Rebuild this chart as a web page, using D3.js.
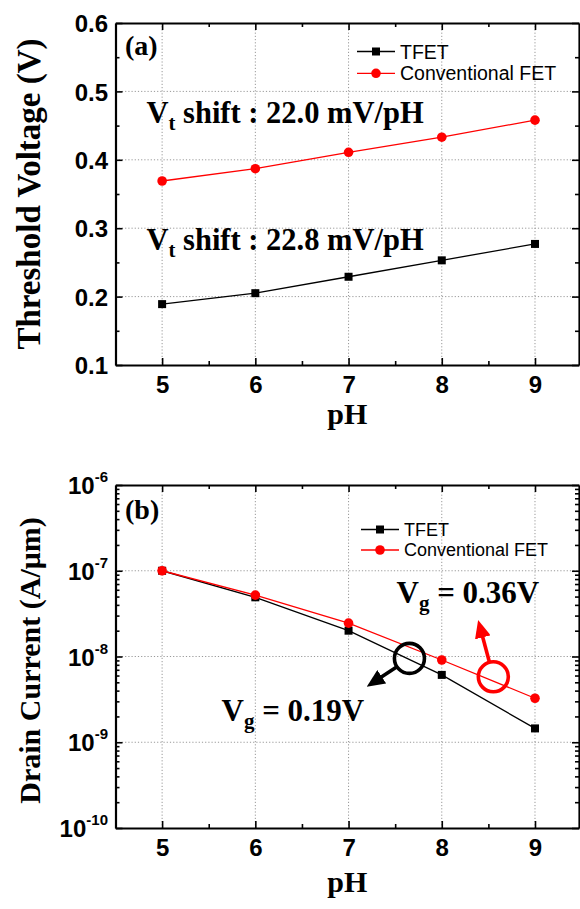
<!DOCTYPE html>
<html>
<head>
<meta charset="utf-8">
<script src="https://cdn.jsdelivr.net/npm/d3@7"></script>
<style>
  body { margin: 0; background: #fff; }
  svg { display: block; }
  .tick-label { font-family: "Liberation Sans", Arial, sans-serif; font-weight: bold; font-size: 24px; }
  .serif { font-family: "Liberation Serif", "Times New Roman", serif; font-weight: bold; }
  .legend { font-family: "Liberation Sans", Arial, sans-serif; }
</style>
</head>
<body>
<svg id="chart" width="580" height="909"></svg>
<script>
// data
const phValues = [5, 6, 7, 8, 9];
const vtTfet = [0.189, 0.205, 0.229, 0.253, 0.277];
const vtConv = [0.369, 0.387, 0.411, 0.433, 0.458];
const idTfet = [1.0e-7, 4.9e-8, 2.0e-8, 6.1e-9, 1.45e-9];
const idConv = [1.0e-7, 5.2e-8, 2.45e-8, 9.1e-9, 3.26e-9];

const phTicks = [5, 6, 7, 8, 9];
const phMinor = [5.5, 6.5, 7.5, 8.5];
const vtTicks = [0.1, 0.2, 0.3, 0.4, 0.5, 0.6];
const vtMinor = [0.15, 0.25, 0.35, 0.45, 0.55];
const idExponents = [-10, -9, -8, -7, -6];
const seriesNames = ['TFET', 'Conventional FET'];

const RED = '#ff0000';
const svg = d3.select('#chart');

const frameLeft = 115.5, frameRight = 579;
const x = d3.scaleLinear().domain([4.5, 9.472]).range([frameLeft, frameRight]);

const yVt = d3.scaleLinear().domain([0.1, 0.6]).range([365, 23]);
const yId = d3.scaleLog().domain([1e-10, 1e-6]).range([828, 485]);

const idMinor = [];
idExponents.slice(0, -1).forEach(e => {
  for (let k = 2; k <= 9; k++) idMinor.push(k * Math.pow(10, e));
});

function cleanAxis(g, keepDomain) {
  g.attr('font-family', null).attr('font-size', null);
  if (keepDomain) g.select('.domain').attr('stroke-width', 2.2);
  else g.select('.domain').remove();
  g.selectAll('.tick line').attr('stroke-width', 1.6);
}

function drawPanel(y, yTop, yBottom, gridValues, majorVals, minorVals, labelFn) {
  const g = svg.append('g');

  // dotted grid
  g.selectAll('.vgrid').data(phTicks).enter().append('line')
    .attr('x1', d => x(d)).attr('x2', d => x(d))
    .attr('y1', yTop).attr('y2', yBottom)
    .attr('stroke', '#999').attr('stroke-dasharray', '1.2,2');
  g.selectAll('.hgrid').data(gridValues).enter().append('line')
    .attr('x1', frameLeft).attr('x2', frameRight)
    .attr('y1', d => y(d)).attr('y2', d => y(d))
    .attr('stroke', '#999').attr('stroke-dasharray', '1.2,2');

  // bottom axis with labels
  const bx = g.append('g').attr('transform', `translate(0,${yBottom})`)
    .call(d3.axisBottom(x).tickValues(phTicks).tickSize(-7).tickSizeOuter(0).tickPadding(11).tickFormat(d3.format('d')));
  cleanAxis(bx, true);
  bx.selectAll('text').attr('class', 'tick-label').attr('fill', '#000');
  const bxm = g.append('g').attr('transform', `translate(0,${yBottom})`)
    .call(d3.axisBottom(x).tickValues(phMinor).tickSize(-4).tickFormat(''));
  cleanAxis(bxm, false);

  // top axis, ticks only
  const tx = g.append('g').attr('transform', `translate(0,${yTop})`)
    .call(d3.axisTop(x).tickValues(phTicks).tickSize(-7).tickSizeOuter(0).tickFormat(''));
  cleanAxis(tx, true);
  const txm = g.append('g').attr('transform', `translate(0,${yTop})`)
    .call(d3.axisTop(x).tickValues(phMinor).tickSize(-4).tickFormat(''));
  cleanAxis(txm, false);

  // left axis
  const ly = g.append('g').attr('transform', `translate(${frameLeft},0)`)
    .call(d3.axisLeft(y).tickValues(majorVals).tickSize(-7).tickSizeOuter(0).tickFormat(''));
  cleanAxis(ly, true);
  ly.selectAll('.tick').each(function(d) { labelFn(d3.select(this), d); });
  const lym = g.append('g').attr('transform', `translate(${frameLeft},0)`)
    .call(d3.axisLeft(y).tickValues(minorVals).tickSize(-4).tickFormat(''));
  cleanAxis(lym, false);

  // right axis
  const ry = g.append('g').attr('transform', `translate(${frameRight},0)`)
    .call(d3.axisRight(y).tickValues(majorVals).tickSize(-7).tickSizeOuter(0).tickFormat(''));
  cleanAxis(ry, true);
  const rym = g.append('g').attr('transform', `translate(${frameRight},0)`)
    .call(d3.axisRight(y).tickValues(minorVals).tickSize(-4).tickFormat(''));
  cleanAxis(rym, false);

  return g;
}

function drawSeries(g, y, values, color, shape) {
  const pts = phValues.map((p, i) => [p, values[i]]);
  g.append('path').datum(pts)
    .attr('fill', 'none').attr('stroke', color).attr('stroke-width', 1.3)
    .attr('d', d3.line().x(d => x(d[0])).y(d => y(d[1])));
  if (shape === 'square') {
    g.selectAll(null).data(pts).enter().append('rect')
      .attr('x', d => x(d[0]) - 4).attr('y', d => y(d[1]) - 4)
      .attr('width', 8).attr('height', 8).attr('fill', color);
  } else {
    g.selectAll(null).data(pts).enter().append('circle')
      .attr('cx', d => x(d[0])).attr('cy', d => y(d[1]))
      .attr('r', 4.8).attr('fill', color);
  }
}

function drawLegend(g, lx, ly, gap, size) {
  const items = [{ name: seriesNames[0], color: '#000', shape: 'square' },
                 { name: seriesNames[1], color: RED, shape: 'circle' }];
  items.forEach((it, i) => {
    const yy = ly + i * gap;
    g.append('line').attr('x1', lx).attr('x2', lx + 38).attr('y1', yy).attr('y2', yy)
      .attr('stroke', it.color).attr('stroke-width', 1.3);
    if (it.shape === 'square') {
      g.append('rect').attr('x', lx + 15).attr('y', yy - 4).attr('width', 8).attr('height', 8).attr('fill', it.color);
    } else {
      g.append('circle').attr('cx', lx + 19).attr('cy', yy).attr('r', 4.8).attr('fill', it.color);
    }
    g.append('text').attr('class', 'legend').attr('font-size', size)
      .attr('x', lx + 43).attr('y', yy + size * 0.36).text(it.name);
  });
}

function subText(g, tx, ty, main, sub, rest, size) {
  const t = g.append('text').attr('class', 'serif').attr('x', tx).attr('y', ty).attr('font-size', size);
  t.append('tspan').text(main);
  t.append('tspan').attr('font-size', size * 0.68).attr('dy', 7).text(sub);
  t.append('tspan').attr('dy', -7).text(rest);
  return t;
}

// ---- panel (a)
const ga = drawPanel(yVt, 23, 365, [0.2, 0.3, 0.4, 0.5], vtTicks, vtMinor, (tick, d) => {
  tick.append('text').attr('class', 'tick-label').attr('fill', '#000')
    .attr('x', -7.5).attr('dy', '0.36em').attr('text-anchor', 'end').text(d3.format('.1f')(d));
});
drawSeries(ga, yVt, vtTfet, '#000', 'square');
drawSeries(ga, yVt, vtConv, RED, 'circle');
drawLegend(ga, 357, 51.5, 21.8, 19.5);
ga.append('text').attr('class', 'serif').attr('font-size', 28).attr('x', 125).attr('y', 55).text('(a)');
subText(ga, 146.5, 123, 'V', 't', ' shift : 22.0 mV/pH', 30.5);
subText(ga, 146.5, 250, 'V', 't', ' shift : 22.8 mV/pH', 30.5);
ga.append('text').attr('class', 'serif').attr('font-size', 30).attr('text-anchor', 'middle')
  .attr('x', (frameLeft + frameRight) / 2).attr('y', 424).text('pH');
ga.append('text').attr('class', 'serif').attr('font-size', 33).attr('text-anchor', 'middle')
  .attr('transform', `translate(40,${(23 + 365) / 2}) rotate(-90)`).text('Threshold Voltage (V)');

// ---- panel (b)
const gb = drawPanel(yId, 485, 828, [1e-9, 1e-8, 1e-7], idExponents.map(e => Math.pow(10, e)), idMinor, (tick, d) => {
  const e = Math.round(Math.log10(d));
  const t = tick.append('text').attr('class', 'tick-label').attr('fill', '#000')
    .attr('x', -7.5).attr('dy', '0.36em').attr('text-anchor', 'end');
  t.append('tspan').text('10');
  t.append('tspan').attr('font-size', 15).attr('dy', -12).text(e);
});
drawSeries(gb, yId, idTfet, '#000', 'square');
drawSeries(gb, yId, idConv, RED, 'circle');
drawLegend(gb, 361, 529.5, 20.5, 18);
gb.append('text').attr('class', 'serif').attr('font-size', 28).attr('x', 125).attr('y', 519).text('(b)');
gb.append('text').attr('class', 'serif').attr('font-size', 30).attr('text-anchor', 'middle')
  .attr('x', (frameLeft + frameRight) / 2).attr('y', 892).text('pH');
gb.append('text').attr('class', 'serif').attr('font-size', 30).attr('text-anchor', 'middle')
  .attr('transform', `translate(40,${(485 + 828) / 2 + 4}) rotate(-90)`).text('Drain Current (A/\u03bcm)');

// Vg callouts: circle on the curve + arrow to the label
const callouts = [
  { ph: 8.553, value: 5.8e-9, tipPh: 8.39, tipValue: 2.67e-8, color: RED },
  { ph: 7.653, value: 9.5e-9, tipPh: 7.195, tipValue: 4.45e-9, color: '#000' }
];
const defs = svg.append('defs');
callouts.forEach((c, i) => {
  defs.append('marker').attr('id', 'head' + i)
    .attr('markerUnits', 'userSpaceOnUse').attr('markerWidth', 18).attr('markerHeight', 16)
    .attr('refX', 11).attr('refY', 8).attr('orient', 'auto')
    .append('path').attr('d', 'M0,0 L18,8 L0,16 Z').attr('fill', c.color);
  const cx = x(c.ph), cy = yId(c.value), r = 15;
  const tx = x(c.tipPh), ty = yId(c.tipValue);
  const len = Math.hypot(tx - cx, ty - cy);
  const ux = (tx - cx) / len, uy = (ty - cy) / len;
  gb.append('circle').attr('cx', cx).attr('cy', cy).attr('r', r)
    .attr('fill', 'none').attr('stroke', c.color).attr('stroke-width', 3.6);
  gb.append('line')
    .attr('x1', cx + ux * (r - 1)).attr('y1', cy + uy * (r - 1))
    .attr('x2', tx - ux * 7).attr('y2', ty - uy * 7)
    .attr('stroke', c.color).attr('stroke-width', 3.6)
    .attr('marker-end', `url(#head${i})`);
});
subText(gb, 396.5, 603, 'V', 'g', ' = 0.36V', 31);
subText(gb, 221.5, 721, 'V', 'g', ' = 0.19V', 31);
</script>
</body>
</html>
